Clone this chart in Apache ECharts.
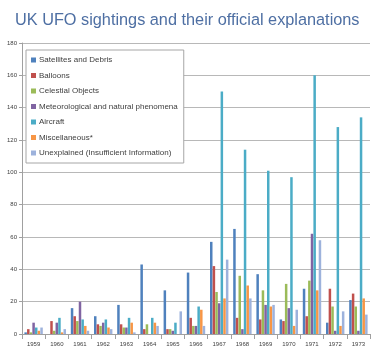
<!DOCTYPE html>
<html lang="en">
<head>
    <meta charset="UTF-8">
    <title>UK UFO sightings</title>
    <script src="https://cdn.jsdelivr.net/npm/echarts@6/dist/echarts.min.js" type="text/javascript"></script>
    <style>
        html, body { margin: 0; padding: 0; background: #fff; }
    </style>
</head>
<body>
<div id="ufo" style="width: 375px;height:352px;"></div>
</body>

<script type="text/javascript">
    var years = ['1959', '1960', '1961', '1962', '1963', '1964', '1965', '1966',
        '1967', '1968', '1969', '1970', '1971', '1972', '1973'];

    var satellites    = [1, 0, 16, 11, 18, 43, 27, 38, 57, 65, 37, 9, 28, 7, 21];
    var balloons      = [3, 8, 11, 6, 6, 3, 3, 10, 42, 10, 9, 8, 11, 28, 25];
    var celestial     = [1, 2, 8, 5, 4, 6, 3, 5, 26, 36, 27, 31, 33, 17, 17];
    var meteorological = [7, 7, 20, 7, 4, 0, 2, 5, 19, 3, 18, 16, 62, 2, 2];
    var aircraft      = [4, 10, 9, 9, 10, 10, 7, 17, 150, 114, 101, 97, 160, 128, 134];
    var misc          = [2, 1, 5, 4, 7, 7, 0, 15, 22, 30, 17, 5, 27, 5, 22];
    var unexplained   = [4, 3, 2, 3, 1, 5, 14, 5, 46, 22, 18, 15, 58, 14, 12];

    var names = ['Satellites and Debris', 'Balloons', 'Celestial Objects',
        'Meteorological and natural phenomena', 'Aircraft', 'Miscellaneous*',
        'Unexplained (Insufficient Information)'];
    var colors = ['#4f81bd', '#c0504d', '#9bbb59', '#8064a2', '#4bacc6', '#f79646', '#9db2dc'];
    var values = [satellites, balloons, celestial, meteorological, aircraft, misc, unexplained];

    var chart = echarts.init(document.getElementById('ufo'));

    var series = names.map(function (n, i) {
        return {
            name: n,
            type: 'bar',
            data: values[i],
            barWidth: 2.5,
            barGap: '6%',
            itemStyle: { color: colors[i] }
        };
    });

    chart.setOption({
        animation: false,
        color: colors,
        textStyle: { fontFamily: 'Liberation Sans, Arial, sans-serif' },
        title: {
            text: 'UK UFO sightings and their official explanations',
            left: 10,
            top: 8,
            textStyle: {
                fontSize: 16.3,
                fontWeight: 'normal',
                color: '#4e6fa3',
                fontFamily: 'Liberation Sans, Arial, sans-serif'
            }
        },
        legend: {
            orient: 'vertical',
            left: 26,
            top: 50,
            data: names,
            icon: 'rect',
            itemWidth: 5,
            itemHeight: 5,
            itemGap: 5.5,
            padding: [5, 6, 5, 5],
            borderColor: '#a6a6a6',
            borderWidth: 1,
            backgroundColor: '#fff',
            textStyle: { fontSize: 8, color: '#404040', lineHeight: 10, padding: [0, 0, 0, -2] }
        },
        grid: {
            left: 22,
            right: 5,
            top: 43,
            bottom: 18
        },
        xAxis: {
            type: 'category',
            data: years,
            axisLine: { lineStyle: { color: '#a0a0a0' } },
            axisTick: { show: true, lineStyle: { color: '#a0a0a0' } },
            axisLabel: { fontSize: 6, color: '#404040', margin: 7 }
        },
        yAxis: {
            type: 'value',
            min: 0,
            max: 180,
            interval: 20,
            axisLine: { show: true, lineStyle: { color: '#a0a0a0' } },
            axisTick: { show: true, length: 3, lineStyle: { color: '#a0a0a0' } },
            axisLabel: { fontSize: 6, color: '#404040', margin: 5 },
            splitLine: { lineStyle: { color: '#b8b8b8' } }
        },
        series: series
    });
</script>
</html>
